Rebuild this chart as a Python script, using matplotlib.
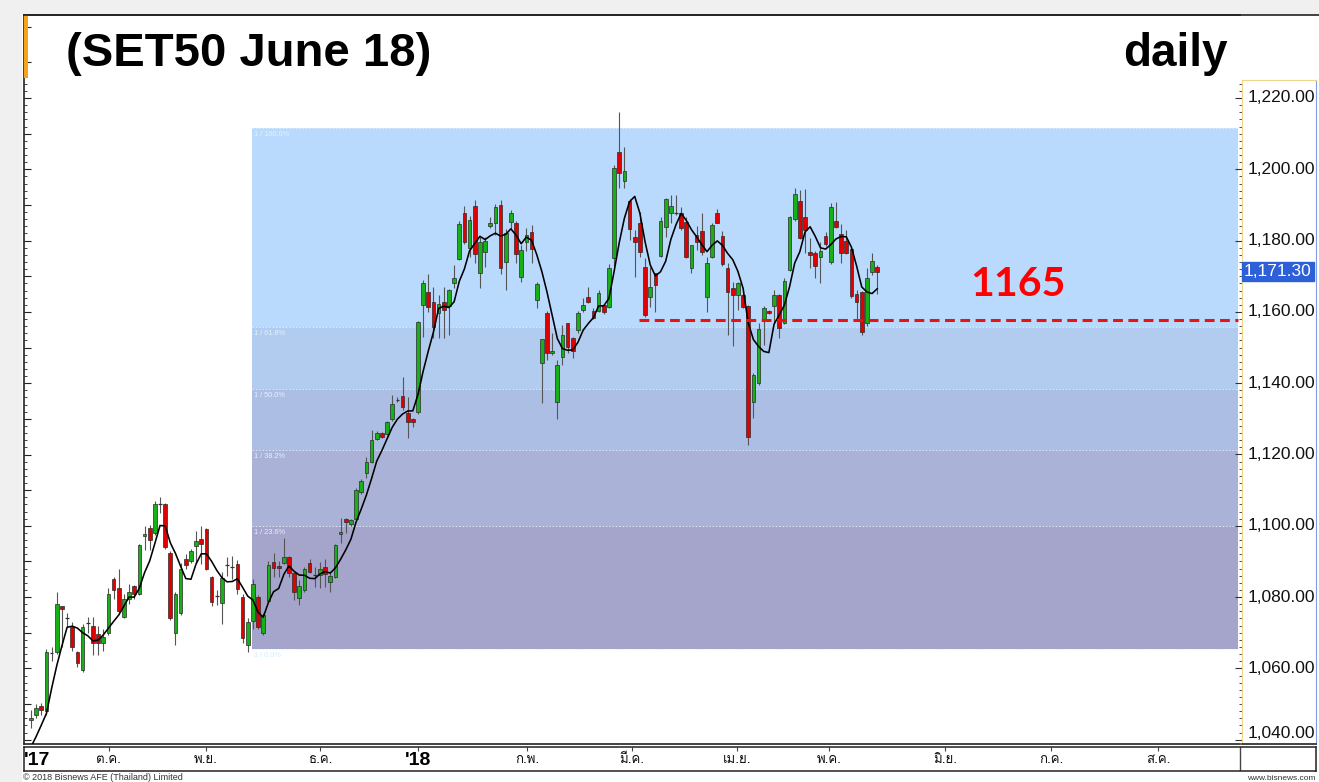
import numpy as np
import matplotlib
matplotlib.use('Agg')
import matplotlib.pyplot as plt
from matplotlib import font_manager
from matplotlib.ft2font import FT2Font
from matplotlib.patches import Rectangle
from matplotlib.lines import Line2D
from matplotlib.ticker import MultipleLocator, FixedLocator

# ---------------- data ----------------
opens = [1045.6, 1047.0, 1049.5, 1048.0, 1064.0, 1064.5, 1077.5, 1074.0, 1071.5, 1064.5,
         1059.5, 1072.4, 1072.0, 1069.7, 1067.0, 1070.0, 1085.0, 1082.5, 1074.5, 1079.5,
         1083.0, 1081.0, 1097.0, 1099.5, 1098.0, 1106.5, 1106.0, 1092.5, 1070.0, 1075.5,
         1090.7, 1090.0, 1094.3, 1096.3, 1099.0, 1085.5, 1080.2, 1078.3, 1088.9, 1088.8,
         1089.3, 1080.0, 1066.6, 1073.3, 1080.0, 1070.0, 1079.0, 1089.8, 1088.8, 1089.6,
         1091.3, 1086.8, 1079.8, 1082.0, 1089.6, 1086.1, 1086.2, 1088.4, 1084.2, 1085.6,
         1097.8, 1102.0, 1100.5, 1102.0, 1109.6, 1114.8, 1118.0, 1124.4, 1126.0, 1125.8,
         1130.0, 1135.2, 1136.4, 1131.6, 1130.0, 1131.8, 1161.8, 1165.5, 1162.7, 1159.6,
         1162.7, 1161.7, 1168.0, 1174.8, 1187.7, 1177.9, 1189.7, 1171.0, 1176.7, 1184.0,
         1184.9, 1190.0, 1173.9, 1185.3, 1184.9, 1169.7, 1179.7, 1182.5, 1163.3, 1145.6,
         1159.8, 1148.5, 1134.8, 1147.4, 1156.8, 1152.8, 1154.8, 1160.4, 1164.3, 1160.3,
         1160.3, 1161.8, 1161.5, 1175.0, 1204.8, 1196.8, 1191.1, 1181.0, 1184.9, 1172.5,
         1164.3, 1170.9, 1175.8, 1183.9, 1187.7, 1187.6, 1187.7, 1185.3, 1172.3, 1181.6,
         1182.7, 1164.3, 1175.3, 1187.7, 1181.3, 1172.3, 1166.8, 1164.7, 1164.7, 1161.7,
         1134.8, 1140.0, 1157.7, 1160.3, 1161.7, 1164.7, 1157.0, 1171.8, 1186.0, 1191.1,
         1186.5, 1176.9, 1176.6, 1175.5, 1181.3, 1173.9, 1185.5, 1181.8, 1179.9, 1177.6,
         1164.9, 1165.7, 1157.0, 1171.1, 1172.5]
highs = [1048.3, 1050.0, 1050.2, 1065.5, 1066.0, 1081.5, 1077.6, 1075.5, 1073.0, 1065.0,
         1072.5, 1074.5, 1074.5, 1072.0, 1071.0, 1082.5, 1085.6, 1088.0, 1081.0, 1083.7,
         1083.5, 1095.0, 1100.0, 1100.3, 1107.0, 1108.0, 1106.5, 1093.0, 1081.5, 1089.5,
         1092.0, 1093.5, 1098.5, 1100.0, 1099.5, 1086.0, 1082.0, 1087.0, 1091.2, 1091.5,
         1090.5, 1081.0, 1074.0, 1085.0, 1080.5, 1075.5, 1090.0, 1092.5, 1090.0, 1096.6,
         1091.5, 1087.0, 1084.8, 1088.5, 1090.7, 1088.4, 1089.8, 1090.7, 1086.7, 1095.0,
         1102.3, 1102.3, 1102.0, 1110.5, 1113.0, 1119.2, 1127.0, 1126.5, 1126.3, 1129.5,
         1136.7, 1136.0, 1141.6, 1136.1, 1130.3, 1157.5, 1169.0, 1170.6, 1167.1, 1164.7,
         1167.0, 1166.5, 1173.2, 1185.5, 1189.7, 1187.0, 1191.5, 1181.1, 1181.0, 1186.7,
         1190.3, 1191.4, 1183.2, 1188.5, 1185.5, 1178.8, 1183.5, 1184.4, 1168.5, 1152.5,
         1160.3, 1154.0, 1146.5, 1156.3, 1157.0, 1153.0, 1160.3, 1163.8, 1167.1, 1161.0,
         1166.1, 1162.0, 1173.5, 1201.3, 1216.0, 1206.2, 1191.7, 1183.0, 1188.1, 1175.1,
         1172.7, 1171.0, 1186.7, 1192.0, 1192.8, 1192.8, 1189.5, 1186.5, 1178.9, 1184.0,
         1187.7, 1175.3, 1185.0, 1188.8, 1182.7, 1173.7, 1168.5, 1168.5, 1166.1, 1162.0,
         1142.8, 1156.8, 1161.7, 1160.5, 1166.1, 1165.0, 1169.5, 1187.0, 1194.7, 1194.2,
         1194.4, 1180.6, 1177.0, 1179.7, 1182.5, 1190.5, 1190.9, 1184.6, 1183.0, 1178.0,
         1166.1, 1166.0, 1172.3, 1176.6, 1173.2]
lows = [1043.3, 1046.0, 1047.0, 1047.0, 1062.0, 1064.0, 1066.0, 1071.5, 1065.0, 1060.5,
        1059.0, 1070.0, 1063.7, 1063.7, 1065.0, 1069.5, 1079.5, 1075.5, 1074.0, 1078.0,
        1079.5, 1080.5, 1093.3, 1093.3, 1097.5, 1103.5, 1093.5, 1073.5, 1066.5, 1075.0,
        1088.0, 1089.5, 1089.7, 1089.4, 1087.5, 1077.5, 1077.8, 1072.5, 1086.0, 1085.1,
        1081.0, 1067.0, 1064.5, 1071.0, 1071.0, 1069.5, 1078.5, 1085.5, 1085.7, 1089.3,
        1085.5, 1079.2, 1077.8, 1081.5, 1086.8, 1082.8, 1082.6, 1082.9, 1081.4, 1085.3,
        1095.3, 1098.0, 1100.0, 1101.5, 1109.0, 1113.4, 1117.5, 1124.0, 1124.5, 1125.5,
        1129.5, 1134.8, 1132.5, 1124.6, 1127.7, 1131.5, 1153.0, 1160.1, 1152.6, 1152.7,
        1152.6, 1153.5, 1166.6, 1174.5, 1179.0, 1175.5, 1173.6, 1166.6, 1172.5, 1183.5,
        1181.6, 1170.6, 1166.1, 1183.2, 1173.6, 1168.5, 1177.2, 1173.8, 1161.0, 1134.4,
        1146.5, 1148.0, 1129.9, 1145.1, 1148.4, 1147.0, 1154.0, 1160.0, 1162.5, 1158.0,
        1160.0, 1159.5, 1161.0, 1173.0, 1194.7, 1194.7, 1180.2, 1169.9, 1175.5, 1158.7,
        1161.5, 1160.1, 1175.5, 1181.1, 1184.9, 1187.2, 1183.0, 1175.0, 1171.0, 1177.4,
        1176.0, 1159.9, 1175.0, 1184.8, 1173.0, 1153.5, 1150.3, 1160.5, 1161.0, 1122.7,
        1130.2, 1139.5, 1150.7, 1159.4, 1157.3, 1152.6, 1156.5, 1171.5, 1185.5, 1180.5,
        1176.4, 1172.3, 1169.4, 1168.0, 1178.5, 1173.5, 1183.5, 1173.6, 1176.3, 1164.0,
        1157.7, 1153.5, 1156.0, 1170.4, 1165.0]
closes = [1046.0, 1049.0, 1048.4, 1064.5, 1064.2, 1078.0, 1076.8, 1074.2, 1066.0, 1061.5,
          1071.5, 1072.6, 1067.0, 1067.0, 1068.8, 1081.0, 1082.0, 1076.0, 1079.5, 1081.5,
          1081.0, 1094.5, 1097.7, 1096.0, 1106.0, 1106.2, 1094.0, 1074.0, 1081.0, 1088.0,
          1089.0, 1093.0, 1095.7, 1095.0, 1088.0, 1078.5, 1080.4, 1085.4, 1089.1, 1088.5,
          1082.3, 1068.5, 1073.0, 1083.7, 1071.5, 1075.0, 1089.0, 1088.3, 1088.3, 1091.3,
          1086.8, 1081.4, 1083.1, 1088.0, 1087.1, 1086.3, 1087.9, 1086.5, 1085.9, 1094.5,
          1098.3, 1101.0, 1101.5, 1110.0, 1112.7, 1118.0, 1124.0, 1126.0, 1124.9, 1129.0,
          1134.2, 1135.4, 1133.2, 1129.2, 1129.2, 1157.3, 1168.0, 1161.5, 1155.9, 1162.2,
          1160.4, 1166.1, 1169.6, 1184.6, 1179.7, 1185.8, 1176.2, 1179.7, 1180.0, 1185.0,
          1189.5, 1172.2, 1182.1, 1187.7, 1176.2, 1177.4, 1181.6, 1177.6, 1167.8, 1152.3,
          1148.6, 1148.9, 1145.1, 1153.5, 1150.1, 1149.1, 1159.6, 1162.0, 1162.9, 1158.4,
          1165.3, 1160.0, 1172.3, 1200.5, 1199.1, 1199.5, 1183.2, 1179.7, 1176.9, 1159.2,
          1167.1, 1167.6, 1185.5, 1191.7, 1189.7, 1187.8, 1183.5, 1175.5, 1178.8, 1179.7,
          1176.9, 1173.6, 1184.4, 1185.0, 1173.4, 1165.7, 1164.7, 1168.0, 1161.3, 1124.9,
          1142.3, 1155.1, 1161.0, 1159.6, 1164.7, 1155.4, 1168.7, 1186.6, 1193.0, 1180.8,
          1183.0, 1176.0, 1173.0, 1177.1, 1179.0, 1189.3, 1183.9, 1176.5, 1176.6, 1164.5,
          1162.9, 1154.5, 1169.4, 1174.4, 1171.3]
ma_head = [1038.0, 1040.9, 1044.1, 1047.4]   # MA values of the first bars (earlier data not shown)
ma_window = 5

fib_low = 1065.4
fib_high = 1211.6
fib_ratios = [0.0, 0.236, 0.382, 0.5, 0.618, 1.0]
fib_labels = ['1 / 0.0%', '1 / 23.6%', '1 / 38.2%', '1 / 50.0%', '1 / 61.8%', '1 / 100.0%']
fib_start_bar = 42.8

support_level = 1157.7
support_start_bar = 117.8
support_text = '1165'
last_price = 1171.30

month_labels = ["'17", 'ต.ค.', 'พ.ย.', 'ธ.ค.', "'18", 'ก.พ.', 'มี.ค.', 'เม.ย.', 'พ.ค.', 'มิ.ย.', 'ก.ค.', 'ส.ค.']
month_pos = [1.2, 15.1, 33.9, 56.0, 75.0, 96.1, 116.5, 136.8, 154.7, 177.1, 197.7, 218.4]
price_ticks = [1040, 1060, 1080, 1100, 1120, 1140, 1160, 1180, 1200, 1220]

title = '(SET50 June 18)'
period = 'daily'
footer_left = '\u00a9 2018 Bisnews AFE (Thailand) Limited'
footer_right = 'www.bisnews.com'


# ---------------- fonts ----------------
def find_family(ch):
    cp = ord(ch)
    for f in font_manager.fontManager.ttflist:
        try:
            if cp in FT2Font(f.fname).get_charmap():
                return f.name
        except Exception:
            pass
    return None

thai_family = find_family('ต')
thai_fams = ([thai_family] if thai_family else []) + ['DejaVu Sans']
ARIAL = ['Liberation Sans', 'DejaVu Sans']

# ---------------- layout helpers ----------------
W, H = 1319, 782
fig = plt.figure(figsize=(W / 100, H / 100), dpi=100)
fig.patch.set_facecolor('white')


def axes_px(x0, y0, x1, y1):
    return fig.add_axes([x0 / W, 1 - y1 / H, (x1 - x0) / W, (y1 - y0) / H])


PX_PER_BAR = 5.16
FIRST_BAR_PX = 31.0
PX_PER_PT = 3.565          # pixels per index point
REF_VAL, REF_PX = 1220.0, 98.0


def bar_at(px):
    return (px - FIRST_BAR_PX) / PX_PER_BAR


def val_at(py):
    return REF_VAL - (py - REF_PX) / PX_PER_PT


# gray outer strips
fig.add_artist(Rectangle((0, 1 - 15 / H), 1, 15 / H, transform=fig.transFigure,
                         facecolor='#f0f0f0', edgecolor='none', zorder=0))
fig.add_artist(Rectangle((0, 0), 22 / W, 1, transform=fig.transFigure,
                         facecolor='#f0f0f0', edgecolor='none', zorder=0))

# ---------------- main price panel ----------------
ax = axes_px(24, 15, 1240, 744)
ax.set_xlim(bar_at(24), bar_at(1240))
ax.set_ylim(val_at(744), val_at(15))
ax.set_facecolor('white')
for s in ['left', 'top', 'bottom']:
    ax.spines[s].set_color('#222222')
    ax.spines[s].set_linewidth(1.2)
ax.spines['right'].set_visible(False)
ax.set_xticks([])
ax.yaxis.set_major_locator(MultipleLocator(10))
ax.yaxis.set_minor_locator(MultipleLocator(2))
ax.tick_params(axis='y', which='major', direction='in', length=5, width=0.8,
               color='#222222', labelleft=False)
ax.tick_params(axis='y', which='minor', direction='in', length=2.5, width=0.6,
               color='#222222')

# Fibonacci zones
zone_colors = ['#a5a4cb', '#aab2d8', '#acbee4', '#b2ccf0', '#b9dafd']
fib_end_bar = bar_at(1238)
rng = fib_high - fib_low
levels = [fib_low + r * rng for r in fib_ratios]
for j in range(len(levels) - 1):
    ax.add_patch(Rectangle((fib_start_bar, levels[j]), fib_end_bar - fib_start_bar,
                           levels[j + 1] - levels[j], facecolor=zone_colors[j],
                           edgecolor='none', zorder=0.5))
for lev, lab in zip(levels, fib_labels):
    ax.hlines(lev, fib_start_bar, fib_end_bar, colors='#e4eefa', linewidth=0.6,
              linestyles=(0, (2, 2)), zorder=0.6)
    col = '#cdeeff' if lev == levels[0] else '#e2f2ff'
    ax.text(fib_start_bar + 0.4, lev - 0.9, lab, fontsize=5.3, color=col,
            va='top', ha='left', family=ARIAL, zorder=0.7)

# candles
o = np.array(opens)
h = np.array(highs)
l = np.array(lows)
c = np.array(closes)
idx = np.arange(len(c))
body_w = 0.72
ax.vlines(idx, l, h, colors='#555555', linewidth=0.8, zorder=2)
for i in idx:
    lo_b, hi_b = min(o[i], c[i]), max(o[i], c[i])
    if hi_b - lo_b < 0.35:
        ax.hlines(c[i], i - body_w / 2, i + body_w / 2, colors='#333333',
                  linewidth=0.9, zorder=3)
        continue
    fc = '#17b017' if c[i] >= o[i] else '#e00000'
    ax.add_patch(Rectangle((i - body_w / 2, lo_b), body_w, hi_b - lo_b,
                           facecolor=fc, edgecolor='#2a2a2a', linewidth=0.5, zorder=3))

# moving average
ma_tail = np.convolve(c, np.ones(ma_window) / ma_window, mode='valid')
ma = np.concatenate([np.array(ma_head), ma_tail])
ax.plot(idx[:len(ma)], ma, color='black', linewidth=1.15, zorder=4, clip_on=True)

# support line and label
ax.hlines(support_level, support_start_bar, fib_end_bar, colors='#ee1111',
          linewidth=2.2, linestyles=(0, (3.2, 1.8)), zorder=5)
ax.text(bar_at(1017.5), val_at(285), support_text, color='#ff0000', fontsize=29.5,
        fontweight='bold', family=['Lato', 'DejaVu Sans'], ha='center', va='center', zorder=6)

# ---------------- right price column ----------------
col = axes_px(1242, 80, 1316, 744)
col.set_ylim(val_at(744), val_at(80))
col.set_xlim(0, 1)
col.set_facecolor('white')
col.set_xticks([])
col.yaxis.set_major_locator(FixedLocator(price_ticks))
col.yaxis.set_minor_locator(MultipleLocator(2))
col.tick_params(axis='y', which='major', direction='out', length=5, width=0.8,
                color='#333333', labelleft=False)
col.tick_params(axis='y', which='minor', direction='out', length=2.5, width=0.6,
                color='#333333')
col.spines['left'].set_color('#f0d488')
col.spines['top'].set_color('#f0d488')
col.spines['right'].set_color('#7f9ce6')
col.spines['bottom'].set_color('#222222')
col.spines['bottom'].set_linewidth(1.2)
ytr = col.get_yaxis_transform()
for t in price_ticks:
    ty = t if t > min(price_ticks) else val_at(734)
    col.text(0.07, ty, f'{t:,.2f}', transform=ytr, fontsize=12.5, family=ARIAL,
             color='#111111', ha='left', va='center', clip_on=False)
col.text(0.025, last_price, f'{last_price:,.2f}', transform=ytr, fontsize=12.5,
         family=ARIAL, color='white', ha='left', va='center',
         bbox=dict(boxstyle='square,pad=0.12', facecolor='#2d5fd9', edgecolor='#2d5fd9'))

# ---------------- date axis panel ----------------
xp = axes_px(24, 747, 1316, 771)
xp.set_xlim(bar_at(24), bar_at(1316))
xp.set_ylim(0, 1)
xp.set_facecolor('white')
for s in xp.spines.values():
    s.set_color('#222222')
    s.set_linewidth(1.1)
xp.set_yticks([])
xp.set_xticks(month_pos[1:])
xp.tick_params(axis='x', direction='in', length=3, width=0.8, color='#444444',
               top=True, bottom=False, labelbottom=False)
xp.axvline(bar_at(1240), color='#444444', linewidth=1.0)
for lab, pos in zip(month_labels, month_pos):
    if lab.startswith("'"):
        xp.text(pos, 0.45, lab, fontsize=14, fontweight='bold', family=ARIAL,
                ha='center', va='center', color='black')
    else:
        xp.text(pos, 0.45, lab, fontsize=9.5, family=thai_fams,
                ha='center', va='center', color='#111111')

# ---------------- titles & decorations ----------------
fig.add_artist(Line2D([24 / W, 1], [1 - 15 / H, 1 - 15 / H], transform=fig.transFigure,
                      color='#222222', linewidth=1.2, zorder=6))
fig.add_artist(Rectangle((24 / W, 1 - 78 / H), 4 / W, 63 / H, transform=fig.transFigure,
                         facecolor='#f7a21b', edgecolor='none', zorder=5))
fig.text(66 / W, 1 - 66 / H, title, fontsize=34, fontweight='bold', family=ARIAL,
         ha='left', va='baseline', color='black', zorder=6)
fig.text(1228 / W, 1 - 66 / H, period, fontsize=33, fontweight='bold', family=ARIAL,
         ha='right', va='baseline', color='black', zorder=6)
fig.text(23 / W, 1 - 780 / H, footer_left, fontsize=6.5, family=ARIAL,
         ha='left', va='baseline', color='#333333')
fig.text(1316 / W, 1 - 780 / H, footer_right, fontsize=6, family=ARIAL,
         ha='right', va='baseline', color='#333333')

fig.savefig('out.png', dpi=100, facecolor=fig.get_facecolor())
